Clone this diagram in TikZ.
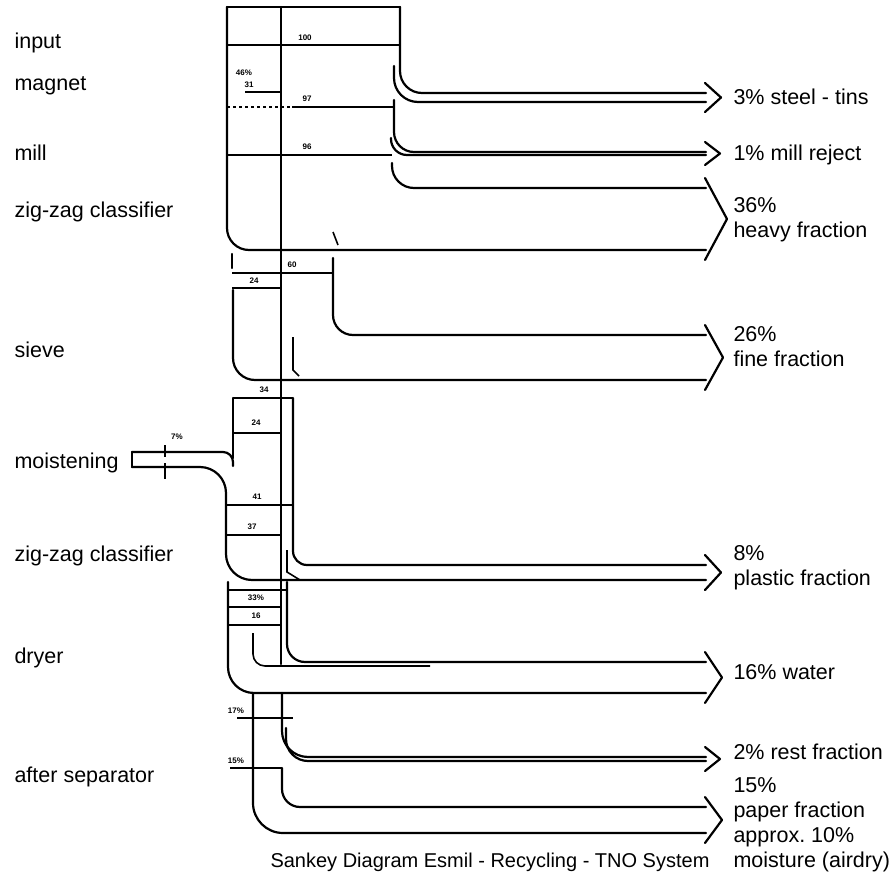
\documentclass[tikz,border=0pt]{standalone}
\usepackage{fontspec}
\setmainfont{Liberation Sans}
\usetikzlibrary{positioning}

\begin{document}
\begin{tikzpicture}[
    x=1pt, y=-1pt,
    flow/.style={line width=2.2pt, line cap=round},
    cut/.style={line width=1.6pt},
    stage/.style={anchor=west, font=\fontsize{21.5}{25}\selectfont},
    outlbl/.style={anchor=west, align=left, font=\fontsize{21.5}{25}\selectfont},
    num/.style={font=\fontsize{8}{9}\selectfont\bfseries, inner sep=1pt}
]
\useasboundingbox (0,0) rectangle (895,883);

\node[stage] (input) at (11,43) {input};
\node[stage] (magnet) at (11,86) {magnet};
\node[stage] (mill) at (11,153) {mill};
\node[stage] (zigzagA) at (11,212) {zig-zag classifier};
\node[stage] (sieve) at (11,350) {sieve};
\node[stage] (moist) at (11,463) {moistening};
\node[stage] (zigzagB) at (11,556) {zig-zag classifier};
\node[stage] (dryer) at (11,658) {dryer};
\node[stage] (aftersep) at (11,777) {after separator};

\node[outlbl] (steel) at (730,97) {3\% steel - tins};
\node[outlbl] (millrej) at (730,155) {1\% mill reject};
\node[outlbl] (heavy) at (730,220) {36\%\\heavy fraction};
\node[outlbl] (fine) at (730,347) {26\%\\fine fraction};
\node[outlbl] (plastic) at (730,568) {8\%\\plastic fraction};
\node[outlbl] (water) at (730,672) {16\% water};
\node[outlbl] (rest) at (730,752) {2\% rest fraction};
\node[outlbl] (paper) at (730,825) {15\%\\paper fraction\\approx.\ 10\%\\moisture (airdry)};
\node[font=\fontsize{20}{24}\selectfont] (caption) at (490,862) {Sankey Diagram Esmil - Recycling - TNO System};

\node[num] (nInput) at (305,38) {100};
\node[num] (nMagA) at (244,73) {46\%};
\node[num] (nMagB) at (249,85) {31};
\node[num] (nMagnet) at (307,99) {97};
\node[num] (nMill) at (307,147) {96};
\node[num] (nZzA) at (292,265) {60};
\node[num] (nZzAin) at (254,281) {24};
\node[num] (nSieve) at (264,390) {34};
\node[num] (nSievein) at (256,423) {24};
\node[num] (nWater) at (177,437) {7\%};
\node[num] (nMoist) at (257,497) {41};
\node[num] (nMoistin) at (252,527) {37};
\node[num] (nZzB) at (256,598) {33\%};
\node[num] (nZzBin) at (256,616) {16};
\node[num] (nDryer) at (236,711) {17\%};
\node[num] (nSep) at (236,761) {15\%};

\draw[flow] (227,7) -- (400,7);
\draw[flow, rounded corners=22pt] (227,7) -- (227,250) -- (706,250);
\draw[flow] (281,7) -- (281,664);
\draw[cut] (227,45) -- (400,45);
\draw[cut] (245,92) -- (281,92);
\draw[cut, dashed] (227,107) -- (290,107);
\draw[cut] (292,107) -- (394,107);
\draw[cut] (227,155) -- (392,155);

\draw[flow, rounded corners=22pt] (400,7) -- (400,93) -- (706,93);
\draw[flow, rounded corners=24pt] (394,66) -- (394,102) -- (706,102);
\draw[flow, rounded corners=20pt] (394,100) -- (394,152) -- (706,152);
\draw[flow, rounded corners=16pt] (391,138) -- (391,155) -- (706,155);
\draw[flow, rounded corners=22pt] (392,163) -- (392,188) -- (706,188);

\draw[cut] (333,232) -- (338,245);
\draw[flow, rounded corners=20pt] (333,258) -- (333,335) -- (706,335);
\draw[cut] (232,273) -- (333,273);
\draw[cut] (232,288) -- (281,288);
\draw[flow] (232,254) -- (232,268);
\draw[flow, rounded corners=22pt] (233,290) -- (233,380) -- (706,380);
\draw[cut] (293,337) -- (293,370) -- (299,376);

\draw[cut] (233,398) -- (293,398);
\draw[flow] (233,398) -- (233,458);
\draw[flow] (132,467) -- (132,452);
\draw[flow, rounded corners=10pt] (132,452) -- (233,452) -- (233,466);
\draw[flow, rounded corners=26pt] (132,467) -- (226,467) -- (226,580) -- (706,580);
\draw[cut] (165,445) -- (165,457);
\draw[cut] (165,463) -- (165,479);
\draw[flow, rounded corners=14pt] (293,398) -- (293,565) -- (706,565);
\draw[cut] (233,433) -- (281,433);
\draw[cut] (226,505) -- (293,505);
\draw[cut] (226,535) -- (281,535);
\draw[cut] (287,550) -- (287,572) -- (300,580);

\draw[cut] (228,590) -- (287,590);
\draw[cut] (228,607) -- (282,607);
\draw[cut] (228,625) -- (282,625);
\draw[flow, rounded corners=26pt] (228,582) -- (228,693) -- (706,693);
\draw[flow, rounded corners=18pt] (287,582) -- (287,662) -- (706,662);
\draw[cut, rounded corners=12pt] (253,633) -- (253,666) -- (430,666);

\draw[cut] (237,718) -- (293,718);
\draw[cut] (230,768) -- (282,768);
\draw[flow, rounded corners=30pt] (253,693) -- (253,833) -- (706,833);
\draw[flow, rounded corners=26pt] (282,693) -- (282,757) -- (706,757);
\draw[flow, rounded corners=22pt] (286,728) -- (286,761) -- (706,761);
\draw[flow, rounded corners=18pt] (282,768) -- (282,807) -- (706,807);

\foreach \t/\b/\tip in {93/102/721, 152/155/720, 188/250/727, 335/380/723,
                        565/580/721, 662/693/722, 757/761/720, 807/833/722}
  \draw[flow, line join=round] (705,\t-10) -- (\tip,{(\t+\b)/2}) -- (705,\b+10);
\end{tikzpicture}
\end{document}
